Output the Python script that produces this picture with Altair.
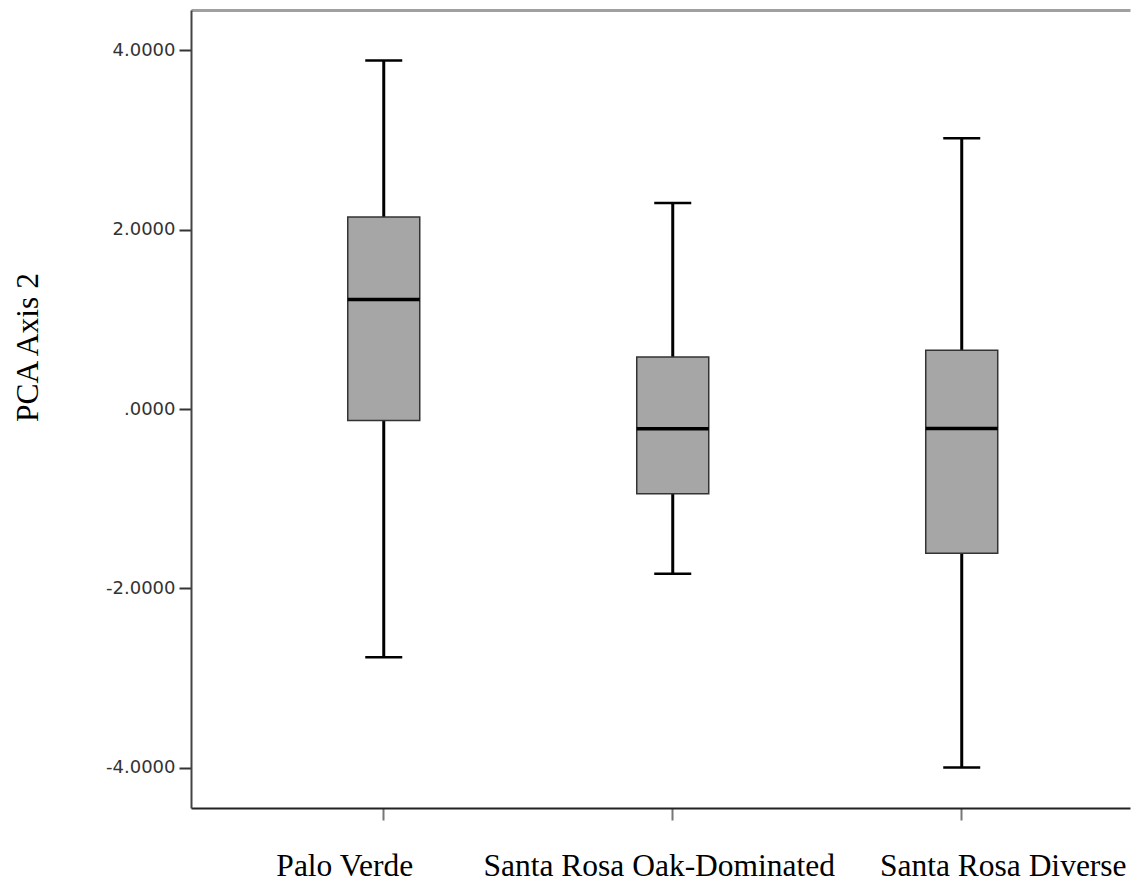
import altair as alt
import pandas as pd

categories = ["Palo Verde", "Santa Rosa Oak-Dominated", "Santa Rosa Diverse"]
whisker_low = [-2.77, -1.837, -3.997]
q1 = [-0.127, -0.945, -1.61]
median = [1.222, -0.22, -0.217]
q3 = [2.14, 0.579, 0.654]
whisker_high = [3.888, 2.297, 3.02]
y_ticks = [-4, -2, 0, 2, 4]

df = pd.DataFrame({
    "group": categories,
    "low": whisker_low,
    "q1": q1,
    "median": median,
    "q3": q3,
    "high": whisker_high,
})

xscale = alt.Scale(paddingInner=0, paddingOuter=0.1246, align=0.67)
yscale = alt.Scale(domain=[-4.45, 4.45], nice=False, zero=False)

label_offset = {
    "condition": [
        {"test": "datum.value == 'Palo Verde'", "value": -39},
        {"test": "datum.value == 'Santa Rosa Diverse'", "value": 41.5},
    ],
    "value": -13.5,
}

x_bottom = alt.X(
    "group:N", sort=categories, scale=xscale, title=None,
    axis=alt.Axis(
        orient="bottom", labelAngle=0, labelFont="Liberation Serif", labelFontSize=31.5,
        labelColor="#000000", labelPadding=30, labelBaseline="top", labelLimit=0,
        labelOffset=label_offset,
        tickSize=12, tickColor="#777777", tickWidth=2,
        domainColor="#222222", domainWidth=2,
    ),
)
x_top = alt.X(
    "group:N", sort=categories, scale=xscale, title=None,
    axis=alt.Axis(orient="top", labels=False, ticks=False,
                  domainColor="#a0a0a0", domainWidth=3),
)
x_none = alt.X("group:N", sort=categories, scale=xscale, axis=None)

yaxis = alt.Axis(
    values=y_ticks, labelExpr="datum.value == 0 ? '.0000' : datum.value + '.0000'",
    labelFont="DejaVu Sans", labelFontSize=18, labelColor="#333333", labelPadding=4,
    tickSize=12, tickColor="#333333", tickWidth=2,
    domainColor="#444444", domainWidth=2, grid=False,
    title="PCA Axis 2", titleFont="Liberation Serif", titleFontSize=31.5,
    titleFontWeight="normal", titleColor="#000000", titleAngle=270,
    titleX=-154, titleY=337, titleAlign="center", titleBaseline="alphabetic",
)

base = alt.Chart(df)

whiskers = base.mark_rule(color="#000000", strokeWidth=3).encode(
    x=x_bottom,
    y=alt.Y("low:Q", scale=yscale, axis=yaxis),
    y2="high:Q",
)
boxes = base.mark_bar(size=72, fill="#a6a6a6", stroke="#333333", strokeWidth=1.5, opacity=1).encode(
    x=x_top,
    y=alt.Y("q1:Q", scale=yscale),
    y2="q3:Q",
)
medians = base.mark_tick(color="#000000", size=72, thickness=3.5, opacity=1).encode(
    x=x_none,
    y=alt.Y("median:Q", scale=yscale),
)
caps_low = base.mark_tick(color="#000000", size=37, thickness=2.5, opacity=1).encode(
    x=x_none,
    y=alt.Y("low:Q", scale=yscale),
)
caps_high = base.mark_tick(color="#000000", size=37, thickness=2.5, opacity=1).encode(
    x=x_none,
    y=alt.Y("high:Q", scale=yscale),
)

chart = alt.layer(whiskers, boxes, medians, caps_low, caps_high).resolve_axis(
    x="independent"
).properties(
    width=939, height=798,
    autosize=alt.AutoSizeParams(type="none"),
    padding={"left": 183, "top": 2, "right": 2, "bottom": 77},
).configure_view(stroke=None)

chart.save("out.html", embed_options={"renderer": "svg", "actions": False})
